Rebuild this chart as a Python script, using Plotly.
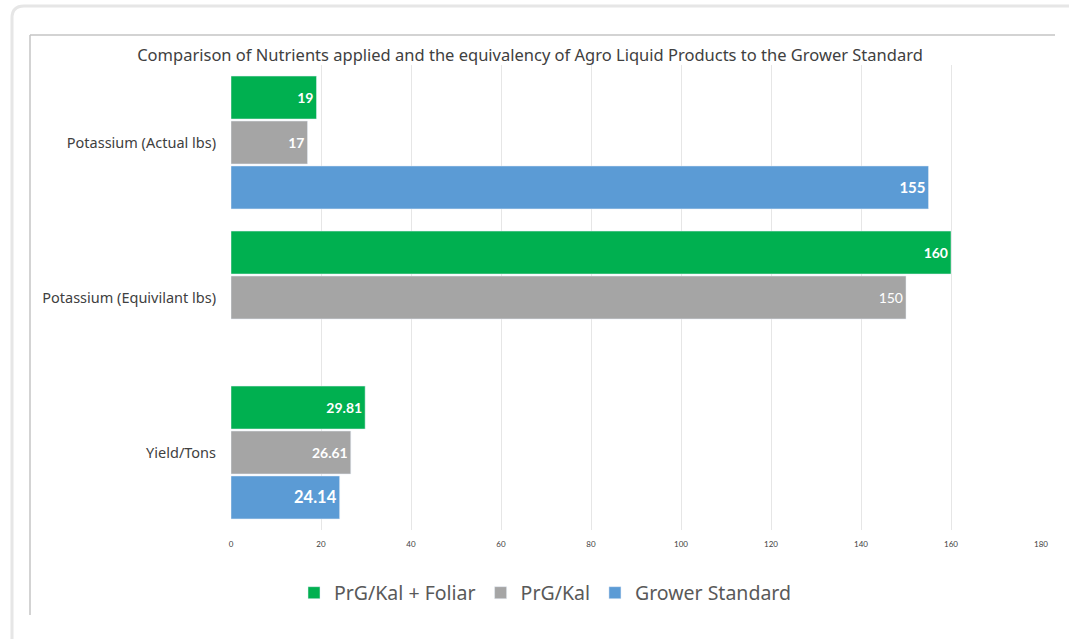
import plotly.graph_objects as go

categories = ["Potassium (Actual lbs)", "Potassium (Equivilant lbs)", "Yield/Tons"]
foliar = [19, 160, 29.81]
prg_kal = [17, 150, 26.61]
grower = [155, None, 24.14]
x_ticks = [0, 20, 40, 60, 80, 100, 120, 140, 160, 180]

foliar_text = ["<b>19</b>", "<b>160</b>", "<b>29.81</b>"]
prg_text = ["<b>17</b>", "150", "<b>26.61</b>"]
grower_text = ["<b>155</b>", "", "<b>24.14</b>"]

W, H = 1069, 639
L, R, T, B = 231, 28, 65, 109
pw, ph = W - L - R, H - T - B

def px(x):
    return (x - L) / pw

def py(y):
    return (H - B - y) / ph

fig = go.Figure()
fig.add_trace(go.Bar(name="PrG/Kal + Foliar", y=categories, x=foliar, orientation="h",
                     marker_color="#00B050", text=foliar_text, textposition="inside",
                     insidetextanchor="end",
                     textfont=dict(color="white", size=14, family="Lato")))
fig.add_trace(go.Bar(name="PrG/Kal", y=categories, x=prg_kal, orientation="h",
                     marker_color="#A5A5A5", text=prg_text, textposition="inside",
                     insidetextanchor="end",
                     textfont=dict(color="white", size=14, family="Lato")))
fig.add_trace(go.Bar(name="Grower Standard", y=categories, x=grower, orientation="h",
                     marker_color="#5B9BD5", text=grower_text, textposition="inside",
                     insidetextanchor="end",
                     textfont=dict(color="white", size=[15, 15, 16.5], family="Lato")))

shapes = [
    # outer card
    dict(type="path", xref="paper", yref="paper",
         path=f"M {px(12)},{py(660)} L {px(12)},{py(18)} Q {px(12)},{py(6)} {px(24)},{py(6)} L {px(1075)},{py(6)}",
         line=dict(color="#e6e6e6", width=3)),
    # inner chart frame
    dict(type="line", xref="paper", yref="paper", x0=px(30), x1=px(30), y0=py(35), y1=py(615),
         line=dict(color="#c4c4c4", width=1.5)),
    dict(type="line", xref="paper", yref="paper", x0=px(30), x1=px(1055), y0=py(35), y1=py(35),
         line=dict(color="#c4c4c4", width=1.5)),
]

fig.update_layout(
    width=W, height=H,
    margin=dict(l=L, r=R, t=T, b=B),
    paper_bgcolor="white", plot_bgcolor="white",
    barmode="group", bargap=0.13, bargroupgap=0.045,
    font=dict(family="Noto Sans", color="#404040"),
    title=dict(text="Comparison of Nutrients applied and the equivalency of Agro Liquid Products to the Grower Standard",
               x=530 / W, xanchor="center", y=1 - 55 / H, yanchor="middle",
               font=dict(size=16.5, color="#404040", family="Noto Sans")),
    xaxis=dict(range=[0, 180], tickvals=x_ticks, showgrid=True, gridcolor="#e6e6e6",
               zeroline=False, showline=False,
               tickfont=dict(size=8, color="#404040", family="Lato"),
               ticks="", ticklabelstandoff=8),
    yaxis=dict(autorange="reversed", showgrid=False, showline=False, zeroline=False,
               tickfont=dict(size=14.5, color="#404040", family="Noto Sans"),
               ticks="", ticklabelstandoff=14),
    legend=dict(orientation="h", x=px(545), xanchor="center", y=py(593), yanchor="middle",
                font=dict(size=19.5, color="#595959", family="Noto Sans"),
                itemwidth=30, traceorder="normal"),
    shapes=shapes,
    showlegend=True,
)

fig.write_html("out.html")
